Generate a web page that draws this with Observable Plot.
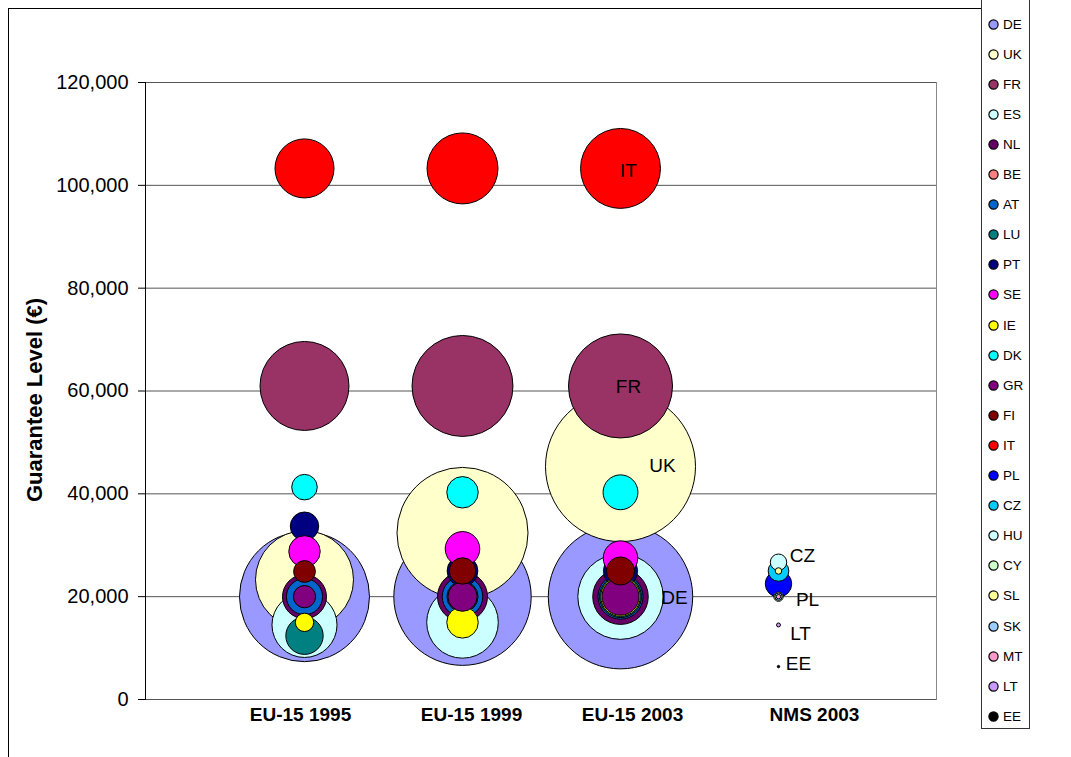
<!DOCTYPE html>
<html>
<head>
<meta charset="utf-8">
<script src="https://cdn.jsdelivr.net/npm/d3@7"></script>
<script src="https://cdn.jsdelivr.net/npm/@observablehq/plot@0.6"></script>
<style>
  html, body { margin: 0; padding: 0; background: #fff; }
  #wrap { position: relative; width: 1071px; height: 757px; overflow: hidden; background: #fff;
          font-family: "Liberation Sans", Arial, sans-serif; }
  #chartframe { position: absolute; left: 8px; top: 8px; width: 990px; height: 800px;
                border-top: 1px solid #000; border-left: 1px solid #000; }
  #wrap > svg { position: absolute; left: 0; top: 0; }
  #legend { position: absolute; left: 981px; top: -4px; width: 49px; height: 733px;
            border: 1px solid #333; background: #fff; box-sizing: border-box; }
  #legend .item { position: absolute; left: 0; height: 16px; display: flex; align-items: center;
          font-size: 13.5px; color: #000; white-space: nowrap; }
  #legend .item svg { position: static; display: block; margin-left: 6px; margin-right: 4px; }
</style>
</head>
<body>
<div id="wrap">
  <div id="chartframe"></div>
  <div id="legend"></div>
</div>
<script>
// Categories on the horizontal axis
const categories = ["EU-15 1995", "EU-15 1999", "EU-15 2003", "NMS 2003"];

// Countries (series order) and their colours
const eu15 = ["DE", "UK", "FR", "ES", "NL", "BE", "AT", "LU", "PT", "SE", "IE", "DK", "GR", "FI", "IT"];
const nms = ["PL", "CZ", "HU", "CY", "SL", "SK", "MT", "LT", "EE"];
const countries = [...eu15, ...nms];
const colors = [
  "#9999ff", "#ffffcc", "#993366", "#ccffff", "#660066", "#ff8080", "#0066cc", "#008080",
  "#000080", "#ff00ff", "#ffff00", "#00ffff", "#800080", "#800000", "#ff0000",
  "#0000ff", "#00ccff", "#ccffff", "#ccffcc", "#ffff99", "#99ccff", "#ff99cc", "#cc99ff", "#000000"
];

// Guarantee level (€) per EU-15 country, in eu15 order
const level1995 = [20000, 23300, 60980, 14500, 20000, 20000, 20000, 12400, 33700, 28800, 15000, 41300, 20000, 24900, 103291];
const level1999 = [20000, 32400, 60980, 15000, 20000, 20000, 20000, 20000, 25000, 29300, 15000, 40300, 20000, 25000, 103291];
const level2003 = [20000, 45300, 60980, 20000, 20000, 20000, 20000, 20000, 25000, 27500, 20000, 40300, 20000, 25000, 103291];
// Bubble size (relative), in eu15 order
const size1995 = [75.1, 42.7, 35.2, 18.8, 8.6, 4.0, 5.8, 6.2, 3.6, 4.4, 1.5, 2.9, 2.2, 2.1, 15.5];
const size1999 = [83.9, 76.3, 45.3, 22.8, 11.1, 5.1, 7.3, 4.3, 4.2, 5.3, 4.4, 4.4, 3.8, 3.1, 22.4];
const size2003 = [92.7, 100, 48.1, 32.4, 13.7, 8.2, 9.0, 7.8, 5.1, 5.3, 6.9, 5.4, 6.1, 3.5, 28.4];

// New member states, 2003, in nms order
const levelNMS = [22500, 25000, 26700, 20000, 25000, 20000, 20000, 14500, 6400];
const sizeNMS = [3.1, 1.9, 1.2, 0.39, 0.19, 0.24, 0.086, 0.07, 0.026];

// Countries carrying a data label
const labelled = [["EU-15 2003", "IT"], ["EU-15 2003", "FR"], ["EU-15 2003", "UK"], ["EU-15 2003", "DE"],
                  ["NMS 2003", "CZ"], ["NMS 2003", "PL"], ["NMS 2003", "LT"], ["NMS 2003", "EE"]];

const yTicks = [0, 20000, 40000, 60000, 80000, 100000, 120000];
const yTitle = "Guarantee Level (€)";

// Build the bubble table series by series (each country across all its categories)
const euSets = [[categories[0], level1995, size1995], [categories[1], level1999, size1999], [categories[2], level2003, size2003]];
const bubbles = [];
eu15.forEach((c, i) => {
  euSets.forEach(([cat, lv, sz]) => bubbles.push({country: c, category: cat, level: lv[i], size: sz[i]}));
});
nms.forEach((c, i) => bubbles.push({country: c, category: categories[3], level: levelNMS[i], size: sizeNMS[i]}));

// Label placement beside each labelled bubble
const nudge = {IT: [8, 2], FR: [8, 1], UK: [42, -1], DE: [54, 1], CZ: [24, -15], PL: [29, 16], LT: [22, 9], EE: [20, -3]};
const labelMarks = labelled.map(([cat, c]) => {
  const b = bubbles.find(d => d.country === c && d.category === cat);
  return Plot.text([b], {x: "category", y: "level", text: "country", dx: nudge[c][0], dy: nudge[c][1],
                         fontSize: 19, fill: "#000"});
});

// Category captions under the plot, each set a little off its column
const captionShift = [-4, 9, 12, 36];
const captionMarks = categories.map((cat, i) =>
  Plot.text([cat], {x: d => d, frameAnchor: "bottom", dy: 21, dx: captionShift[i],
                    fontSize: 19, fontWeight: "bold", fill: "#000"}));

const chart = Plot.plot({
  width: 1071,
  height: 757,
  marginLeft: 145,
  marginRight: 135,
  marginTop: 82,
  marginBottom: 58,
  style: {fontFamily: "'Liberation Sans', Arial, sans-serif", background: "transparent", overflow: "visible", color: "#000"},
  x: {type: "point", domain: categories, padding: 1, axis: null},
  y: {domain: [0, 120000]},
  r: {type: "sqrt", domain: [0, 100], range: [0, 75]},
  color: {domain: countries, range: colors},
  marks: [
    Plot.frame({stroke: "#888"}),
    Plot.gridY(yTicks, {stroke: "#555", strokeOpacity: 1}),
    Plot.frame({anchor: "left", stroke: "#000"}),
    Plot.axisY(yTicks, {tickSize: 7, tickPadding: 10, tickFormat: d3.format(","), fontSize: 20, label: null}),
    ...captionMarks,
    Plot.dot(bubbles, {x: "category", y: "level", r: "size", fill: "country", stroke: "#000", strokeWidth: 1, sort: null}),
    ...labelMarks,
    Plot.text([yTitle], {frameAnchor: "left", textAnchor: "middle", rotate: -90, dx: -111, dy: 9,
                         fontSize: 22, fontWeight: "bold", letterSpacing: "0.4px"})
  ]
});
document.getElementById("wrap").insertBefore(chart, document.getElementById("legend"));

// Legend: one row per country
const legend = document.getElementById("legend");
countries.forEach((c, i) => {
  const row = document.createElement("div");
  row.className = "item";
  row.style.top = (27 + i * 30.1 - 8) + "px";
  row.innerHTML = `<svg width="11" height="11"><circle cx="5.5" cy="5.5" r="4.6" fill="${colors[i]}" stroke="#000" stroke-width="1.2"/></svg><span>${c}</span>`;
  legend.appendChild(row);
});
</script>
</body>
</html>
